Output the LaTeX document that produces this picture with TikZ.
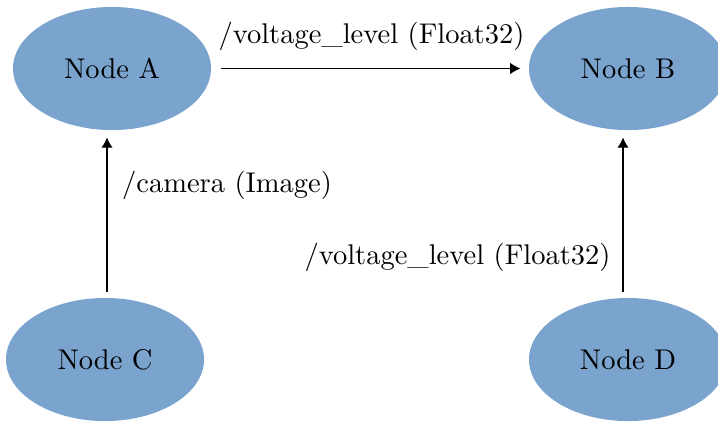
\documentclass[tikz,border=0pt]{standalone}
\usetikzlibrary{arrows.meta,shapes.geometric}
\definecolor{nodeblue}{RGB}{122,163,206}
\begin{document}
\begin{tikzpicture}[x=0.351pt,y=-0.351pt,
  rosnode/.style={ellipse,fill=nodeblue,draw=none,inner sep=0pt,
    minimum width=69.5pt,minimum height=43.2pt},
  arr/.style={-{Latex[length=3.6pt,width=4pt]},line width=0.4pt},
  lbl/.style={anchor=base,inner sep=0pt}]
\clip (0,0) rectangle (718,421);
\node[rosnode] (A) at (112,68.5) {Node A};
\node[rosnode] (B) at (628,68.5) {Node B};
\node[rosnode] (C) at (105,359.5) {Node C};
\node[rosnode] (D) at (628,359.5) {Node D};
\coordinate (xl) at (107,0);
\coordinate (xr) at (623,0);
\draw[arr,shorten <=3.2pt,shorten >=2.8pt] (A.east) -- (B.west);
\draw[arr,shorten <=1.8pt,shorten >=2.4pt] (C.north -| xl) -- (A.south -| xl);
\draw[arr,shorten <=1.8pt,shorten >=2.4pt] (D.north -| xr) -- (B.south -| xr);
\node[lbl] (l1) at (371.5,43) {/voltage\_level (Float32)};
\node[lbl] (l2) at (227,192) {/camera (Image)};
\node[lbl] (l3) at (457.5,264) {/voltage\_level (Float32)};
\end{tikzpicture}
\end{document}
